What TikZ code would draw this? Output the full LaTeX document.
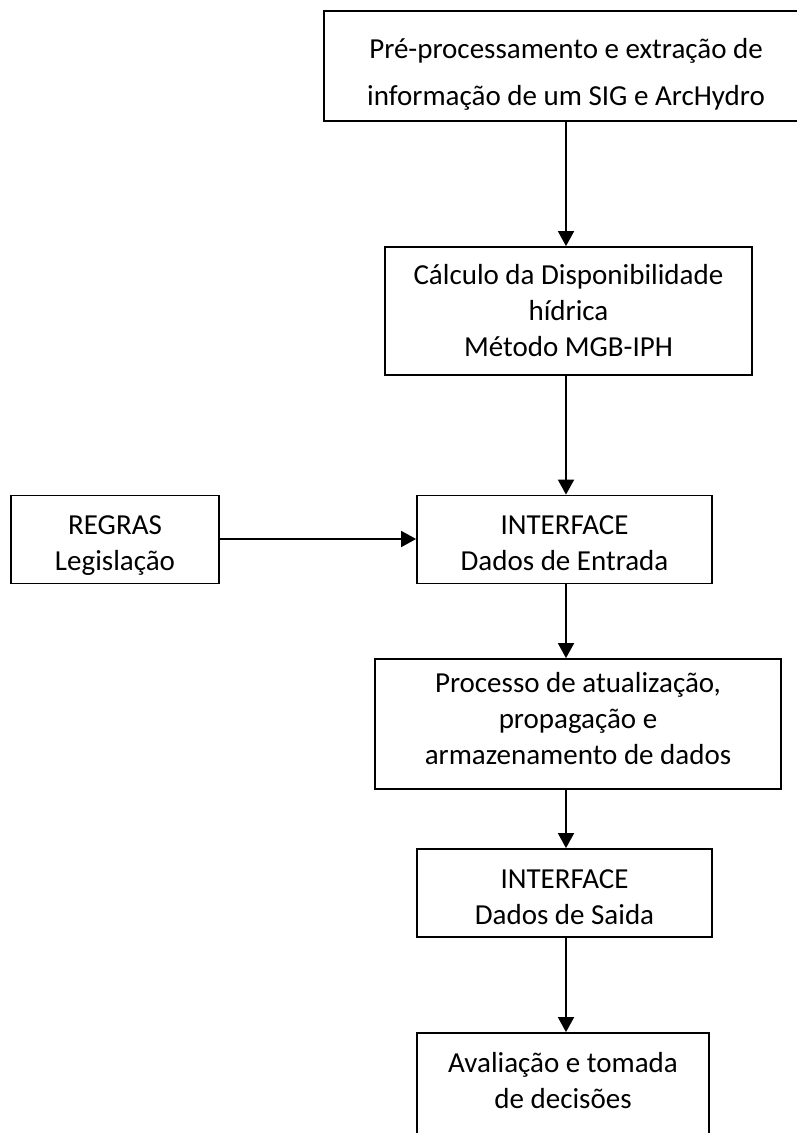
\documentclass[tikz,border=0pt]{standalone}
\usepackage{fontspec}
\setmainfont{Carlito}
\usetikzlibrary{arrows.meta}
\begin{document}
\begin{tikzpicture}[x=1pt,y=-1pt,
  box/.style={draw, line width=1.8pt, inner sep=0pt, rectangle},
  txt/.style={inner sep=0pt, align=center, font=\fontsize{29}{36}\selectfont},
  txtwide/.style={inner sep=0pt, align=center, font=\fontsize{29}{47}\selectfont},
  arr/.style={line width=1.8pt, -{Triangle[width=16pt,length=15pt]}}]
\useasboundingbox (0,0) rectangle (797,1133);
\clip (0,0) rectangle (797,1133);
% boxes
\node[box, minimum width=484pt, minimum height=110pt] (b1) at (566,66) {};
\node[box, minimum width=367pt, minimum height=128pt] (b2) at (568.5,311) {};
\node[box, minimum width=295pt, minimum height=88pt] (b3) at (564.5,539.5) {};
\node[box, minimum width=208pt, minimum height=88pt] (rg) at (115,539.5) {};
\node[box, minimum width=406pt, minimum height=130pt] (b4) at (578,724) {};
\node[box, minimum width=295pt, minimum height=88pt] (b5) at (564.5,893) {};
\node[box, minimum width=292pt, minimum height=130pt] (b6) at (563,1098) {};
% texts
\node[txtwide] (t1) at (566,72.1) {Pré-processamento e extração de\strut\\informação de um SIG e ArcHydro\strut};
\node[txt] (t2) at (568.5,312.8) {Cálculo da Disponibilidade\strut\\hídrica\strut\\Método MGB-IPH\strut};
\node[txt] (t3) at (564.5,544.8) {INTERFACE\strut\\Dados de Entrada\strut};
\node[txt] (trg) at (115,544.8) {REGRAS\strut\\Legislação\strut};
\node[txt] (t4) at (578,720.8) {Processo de atualização,\strut\\propagação e\strut\\armazenamento de dados\strut};
\node[txt] (t5) at (564.5,898.8) {INTERFACE\strut\\Dados de Saida\strut};
\node[txt] (t6) at (563,1082.8) {Avaliação e tomada\strut\\de decisões\strut};
% connectors
\coordinate (ax) at (566,0);
\coordinate (ay) at (0,539);
\draw[arr] (b1.south -| ax) -- (b2.north -| ax);
\draw[arr] (b2.south -| ax) -- (b3.north -| ax);
\draw[arr] (b3.south -| ax) -- (b4.north -| ax);
\draw[arr] (b4.south -| ax) -- (b5.north -| ax);
\draw[arr] (b5.south -| ax) -- (b6.north -| ax);
\draw[arr] (rg.east |- ay) -- (b3.west |- ay);
\end{tikzpicture}
\end{document}
